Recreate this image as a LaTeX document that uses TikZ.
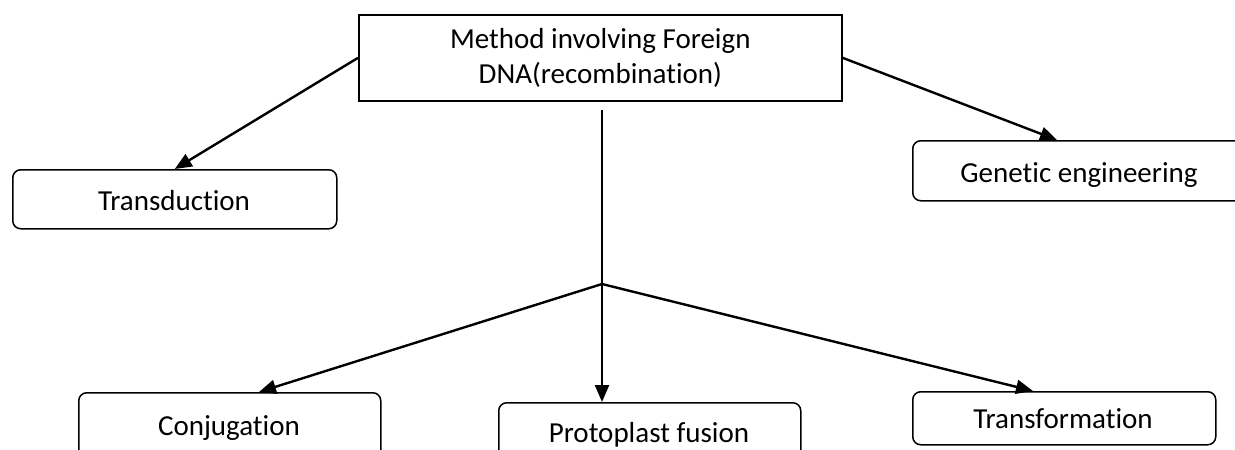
\documentclass[tikz,border=0pt]{standalone}
\usepackage{fontspec}
\setmainfont{Carlito}[Ligatures=NoCommon]
\usetikzlibrary{arrows.meta,calc}

\tikzset{
  box/.style={draw, line width=1.5pt, rounded corners=8pt, inner sep=0pt,
              anchor=north west},
  srcbox/.style={draw, line width=1.7pt, inner sep=0pt, anchor=north west,
                 align=center, font=\fontsize{29}{35}\selectfont},
  lbl/.style={anchor=base, inner sep=0pt, font=\fontsize{29}{35}\selectfont},
  link/.style={line width=2.4pt, -{Triangle[length=17pt,width=14pt]}},
}

\begin{document}
\begin{tikzpicture}[x=1pt, y=-1pt]
  \useasboundingbox (0,0) rectangle (1235,450);
  \clip (0,0) rectangle (1235,450);

  % source box
  \node[srcbox, minimum width=483pt, minimum height=86pt] (src) at (358,14)
    {Method involving Foreign\\DNA(recombination)};

  % target boxes (some run past the page edge)
  \node[box, minimum width=324pt, minimum height=59pt] (trans)  at (12,169) {};
  \node[box, minimum width=360pt, minimum height=60pt] (ge)     at (912,140) {};
  \node[box, minimum width=302pt, minimum height=90pt] (conj)   at (78,392) {};
  \node[box, minimum width=302pt, minimum height=80pt] (proto)  at (498,402) {};
  \node[box, minimum width=303pt, minimum height=53pt] (transf) at (912,391) {};

  % box labels
  \node[lbl] (t-trans)  at (174,210)  {Transduction};
  \node[lbl] (t-ge)     at (1079,182) {Genetic engineering};
  \node[lbl] (t-conj)   at (229,435)  {Conjugation};
  \node[lbl] (t-proto)  at (649,442)  {Protoplast fusion};
  \node[lbl] (t-transf) at (1063,428) {Transformation};

  % connectors
  \coordinate (fork) at (602,284);
  \coordinate (stem) at (602,110);
  \draw[link] (src.west) -- (trans.north);
  \draw[link] (src.east) -- ($(ge.north west)+(145,0)$);
  \draw[link] (stem) -- (fork) -- (proto.north west -| fork);
  \draw[link] (fork) -- ($(conj.north west)+(181,0)$);
  \draw[link] (fork) -- ($(transf.north west)+(121,0)$);
\end{tikzpicture}
\end{document}
